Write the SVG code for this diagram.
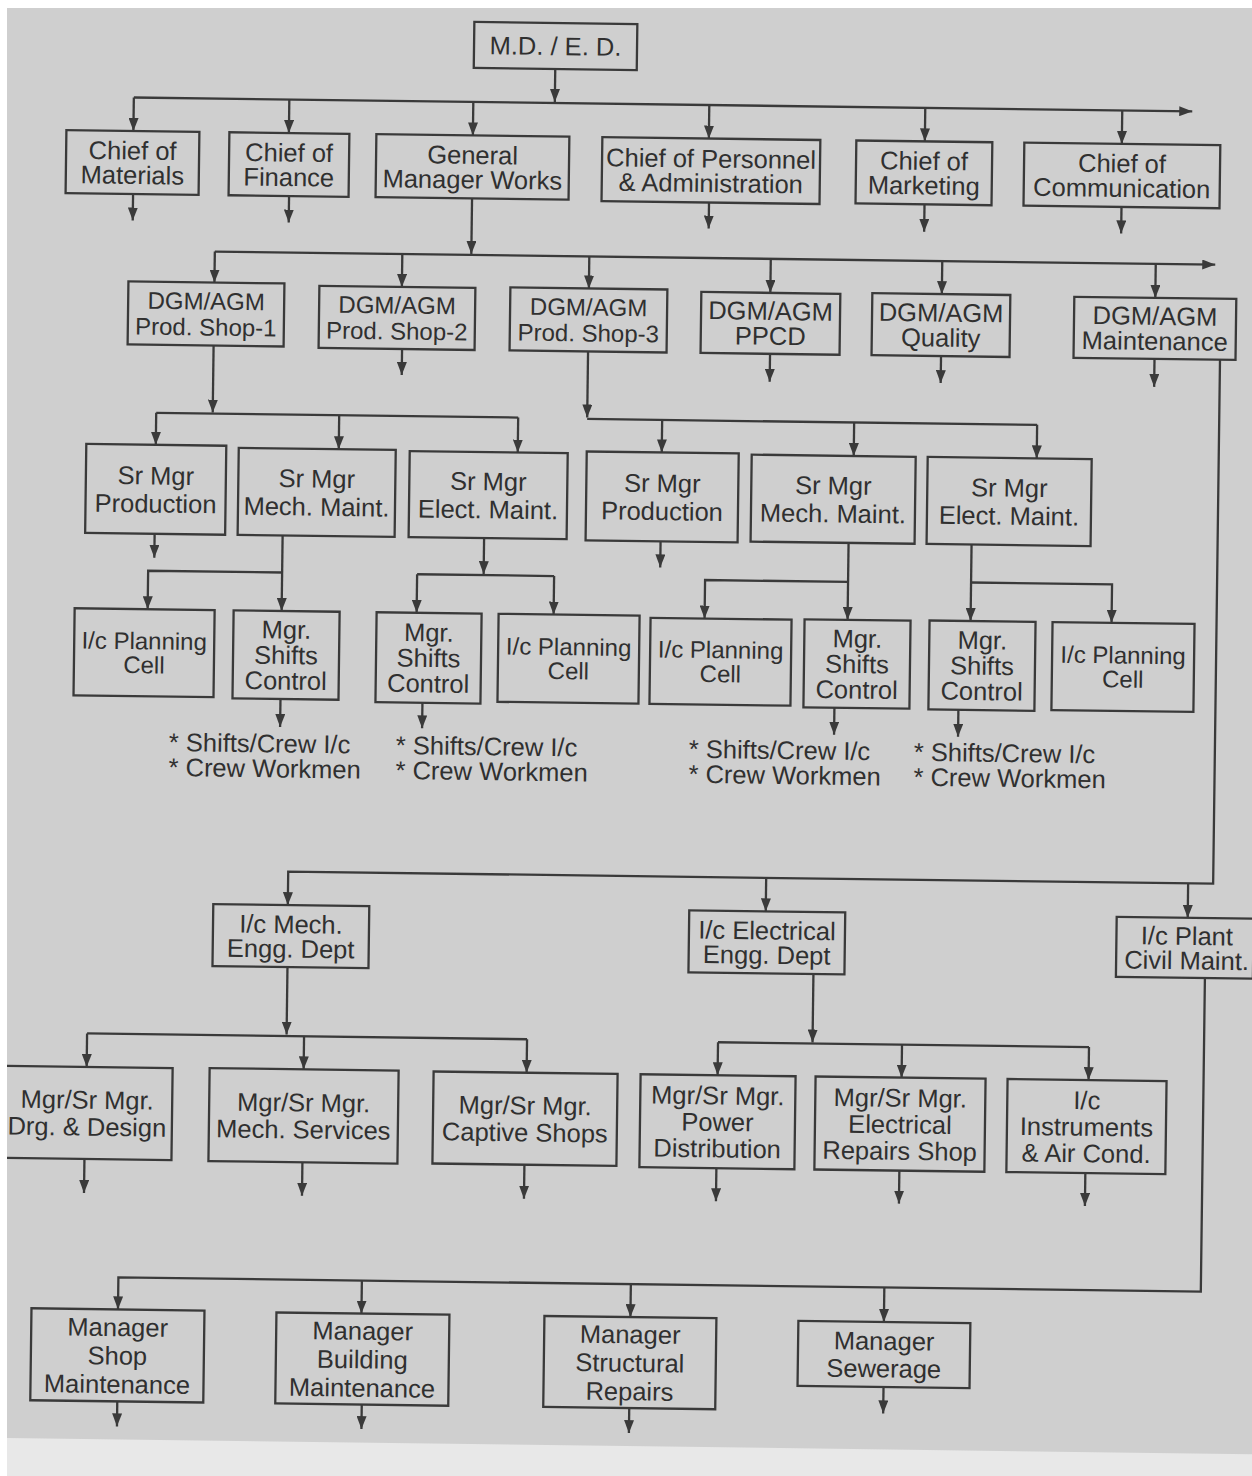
<svg xmlns="http://www.w3.org/2000/svg" width="1252" height="1476" viewBox="0 0 1252 1476">
<defs>
<style>
.b{fill:none;stroke:#3a3a3a;stroke-width:2.3}
.c{fill:none;stroke:#3a3a3a;stroke-width:2.3}
.a{marker-end:url(#ah)}
text{font-family:"Liberation Sans",Arial,sans-serif;fill:#303030;text-anchor:middle}
.f24{font-size:24px}
.f25{font-size:25.5px}
.note{text-anchor:start;font-size:25.5px}
</style>
<marker id="ah" viewBox="0 0 13 10" refX="13" refY="5" markerWidth="13" markerHeight="10" markerUnits="userSpaceOnUse" orient="auto"><path d="M0,0 L13,5 L0,10 z" fill="#3a3a3a"/></marker>
<clipPath id="clip"><rect x="7" y="8" width="1245" height="1468"/></clipPath>
</defs>
<rect width="1252" height="1476" fill="#ffffff"/>
<rect x="7" y="8" width="1245" height="1468" fill="#cfcfcf"/>
<g clip-path="url(#clip)">
<g transform="rotate(0.75 626 738)">
<rect x="-60" y="1446" width="1420" height="200" fill="#e8e8e8"/>
<g id="connectors">
<path class="c a" d="M546.5,70 V103"/>
<path class="c a" d="M125.5,104 H1184"/>
<path class="c a" d="M125.5,104 V137.5"/>
<path class="c a" d="M281,104 V137.5"/>
<path class="c a" d="M465,104 V137.5"/>
<path class="c a" d="M701,104 V137.5"/>
<path class="c a" d="M917,104 V137.5"/>
<path class="c a" d="M1114,104 V137.5"/>
<path class="c a" d="M126,200.5 V227"/>
<path class="c a" d="M282,200.5 V227"/>
<path class="c a" d="M702,201.5 V227.5"/>
<path class="c a" d="M917.5,200.5 V228"/>
<path class="c a" d="M1114.5,200.5 V227"/>
<path class="c a" d="M465,200.5 V256"/>
<path class="c a" d="M208.5,257 H1209"/>
<path class="c a" d="M208.5,257 V288"/>
<path class="c a" d="M396,257 V290"/>
<path class="c a" d="M583,257 V289"/>
<path class="c a" d="M764.5,257 V291"/>
<path class="c a" d="M936,257 V290"/>
<path class="c a" d="M1149.5,257 V291"/>
<path class="c a" d="M397,352 V378"/>
<path class="c a" d="M765,352 V380"/>
<path class="c a" d="M936,352 V379"/>
<path class="c a" d="M1149.5,352 V380"/>
<path class="c a" d="M208.5,351 V418"/>
<path class="c" d="M152,419 H514"/>
<path class="c a" d="M152,419 V451"/>
<path class="c a" d="M335,419 V453"/>
<path class="c a" d="M514,419 V454"/>
<path class="c a" d="M583,352.5 V418"/>
<path class="c" d="M583,419.5 H1033"/>
<path class="c a" d="M658,419.5 V452"/>
<path class="c a" d="M850,419.5 V453"/>
<path class="c a" d="M1033,419.5 V453"/>
<path class="c a" d="M152,540 V564"/>
<path class="c a" d="M658,541 V567"/>
<path class="c a" d="M280,540 V615.5"/>
<path class="c a" d="M280,577 H146 V615.5"/>
<path class="c a" d="M481.5,540 V576"/>
<path class="c" d="M415,577 H552"/>
<path class="c a" d="M415,577 V615.5"/>
<path class="c a" d="M552,577 V615.5"/>
<path class="c a" d="M846,540 V617"/>
<path class="c a" d="M846,579 H703 V617.5"/>
<path class="c a" d="M969,540 V616.5"/>
<path class="c a" d="M969,578 H1110 V616.5"/>
<path class="c a" d="M280,703.5 V731.5"/>
<path class="c a" d="M422,705.5 V731"/>
<path class="c a" d="M834,705 V732"/>
<path class="c a" d="M958,705.5 V732.5"/>
<path class="c a" d="M1215,352 V876 H290 V909.5"/>
<path class="c a" d="M768,876 V909.5"/>
<path class="c a" d="M1190,876 V910.5"/>
<path class="c a" d="M290.5,971.5 V1039"/>
<path class="c" d="M91,1040.5 H531"/>
<path class="c a" d="M91,1040.5 V1074"/>
<path class="c a" d="M308,1040.5 V1073.5"/>
<path class="c a" d="M531,1040.5 V1074"/>
<path class="c a" d="M816.5,971.5 V1040"/>
<path class="c" d="M722,1041 H1093"/>
<path class="c a" d="M722,1041 V1074"/>
<path class="c a" d="M906,1041 V1074"/>
<path class="c a" d="M1093,1041 V1074"/>
<path class="c a" d="M90,1166 V1200"/>
<path class="c a" d="M308,1166.5 V1200"/>
<path class="c a" d="M530,1166 V1200"/>
<path class="c a" d="M722,1167 V1200"/>
<path class="c a" d="M905,1167 V1200"/>
<path class="c a" d="M1091,1167 V1200"/>
<path class="c a" d="M1208,970.5 V1284 H125.5 V1316"/>
<path class="c a" d="M369,1284 V1317"/>
<path class="c a" d="M638,1284 V1317"/>
<path class="c a" d="M891.5,1284 V1318.5"/>
<path class="c a" d="M126,1408 V1433"/>
<path class="c a" d="M370.5,1408 V1432.5"/>
<path class="c a" d="M638,1408 V1433"/>
<path class="c a" d="M892,1383.5 V1410"/>
</g>
<g id="n-md"><rect class="b" x="465" y="24" width="163" height="46"/><text class="f25" x="546.5" y="56">M.D. / E. D.</text></g>
<g id="n-materials"><rect class="b" x="58.5" y="137.5" width="133" height="63"/><text class="f25"><tspan x="125" y="166">Chief of</tspan><tspan x="125" y="190.5">Materials</tspan></text></g>
<g id="n-finance"><rect class="b" x="221.5" y="137.5" width="120" height="63"/><text class="f25"><tspan x="281.5" y="166">Chief of</tspan><tspan x="281.5" y="190.5">Finance</tspan></text></g>
<g id="n-gm"><rect class="b" x="368.5" y="137.5" width="193" height="63"/><text class="f25"><tspan x="465" y="166">General</tspan><tspan x="465" y="190.5">Manager Works</tspan></text></g>
<g id="n-personnel"><rect class="b" x="594.5" y="137.5" width="218" height="64"/><text class="f25"><tspan x="703.5" y="166.5">Chief of Personnel</tspan><tspan x="703.5" y="191">&amp; Administration</tspan></text></g>
<g id="n-marketing"><rect class="b" x="848.5" y="137.5" width="136" height="63"/><text class="f25"><tspan x="916.5" y="166">Chief of</tspan><tspan x="916.5" y="190.5">Marketing</tspan></text></g>
<g id="n-communication"><rect class="b" x="1016.5" y="137.5" width="196" height="63"/><text class="f25"><tspan x="1114.5" y="166">Chief of</tspan><tspan x="1114.5" y="190.5">Communication</tspan></text></g>
<g id="n-dgm1"><rect class="b" x="122.5" y="288" width="156" height="63"/><text class="f24"><tspan x="200.5" y="315">DGM/AGM</tspan><tspan x="200.5" y="341">Prod. Shop-1</tspan></text></g>
<g id="n-dgm2"><rect class="b" x="313.5" y="290" width="156" height="62"/><text class="f24"><tspan x="391.5" y="316.5">DGM/AGM</tspan><tspan x="391.5" y="342.5">Prod. Shop-2</tspan></text></g>
<g id="n-dgm3"><rect class="b" x="504.5" y="289" width="157" height="63"/><text class="f24"><tspan x="583" y="316">DGM/AGM</tspan><tspan x="583" y="342">Prod. Shop-3</tspan></text></g>
<g id="n-ppcd"><rect class="b" x="695.5" y="291" width="139" height="61"/><text class="f25"><tspan x="765" y="318">DGM/AGM</tspan><tspan x="765" y="343">PPCD</tspan></text></g>
<g id="n-quality"><rect class="b" x="866.5" y="290" width="138" height="62"/><text class="f25"><tspan x="935.5" y="317.5">DGM/AGM</tspan><tspan x="935.5" y="342.5">Quality</tspan></text></g>
<g id="n-maintenance"><rect class="b" x="1068.5" y="291" width="162" height="61"/><text class="f25"><tspan x="1149.5" y="318">DGM/AGM</tspan><tspan x="1149.5" y="343">Maintenance</tspan></text></g>
<g id="n-srprod1"><rect class="b" x="82.5" y="451" width="140" height="89"/><text class="f25"><tspan x="152.5" y="490.7">Sr Mgr</tspan><tspan x="152.5" y="518.7">Production</tspan></text></g>
<g id="n-srmech1"><rect class="b" x="235" y="453" width="157" height="87"/><text class="f25"><tspan x="313.5" y="491.7">Sr Mgr</tspan><tspan x="313.5" y="519.7">Mech. Maint.</tspan></text></g>
<g id="n-srelec1"><rect class="b" x="406" y="454" width="158" height="86"/><text class="f25"><tspan x="485" y="492.2">Sr Mgr</tspan><tspan x="485" y="520.2">Elect. Maint.</tspan></text></g>
<g id="n-srprod2"><rect class="b" x="583" y="452" width="152" height="89"/><text class="f25"><tspan x="659" y="491.7">Sr Mgr</tspan><tspan x="659" y="519.7">Production</tspan></text></g>
<g id="n-srmech2"><rect class="b" x="748" y="453" width="164" height="87"/><text class="f25"><tspan x="830" y="491.7">Sr Mgr</tspan><tspan x="830" y="519.7">Mech. Maint.</tspan></text></g>
<g id="n-srelec2"><rect class="b" x="924" y="453" width="164" height="87"/><text class="f25"><tspan x="1006" y="491.7">Sr Mgr</tspan><tspan x="1006" y="519.7">Elect. Maint.</tspan></text></g>
<g id="n-plan1"><rect class="b" x="73" y="615.5" width="140" height="87"/><text class="f24"><tspan x="143" y="655.6">I/c Planning</tspan><tspan x="143" y="679.6">Cell</tspan></text></g>
<g id="n-shifts1"><rect class="b" x="232" y="615.5" width="106" height="88"/><text class="f25"><tspan x="285" y="643">Mgr.</tspan><tspan x="285" y="668.5">Shifts</tspan><tspan x="285" y="694">Control</tspan></text></g>
<g id="n-shifts2"><rect class="b" x="375" y="615.5" width="105" height="90"/><text class="f25"><tspan x="427.5" y="644">Mgr.</tspan><tspan x="427.5" y="669.5">Shifts</tspan><tspan x="427.5" y="695">Control</tspan></text></g>
<g id="n-plan2"><rect class="b" x="497" y="615.5" width="141" height="88"/><text class="f24"><tspan x="567.5" y="656">I/c Planning</tspan><tspan x="567.5" y="680">Cell</tspan></text></g>
<g id="n-plan3"><rect class="b" x="649" y="617.5" width="141" height="86"/><text class="f24"><tspan x="719.5" y="657">I/c Planning</tspan><tspan x="719.5" y="681">Cell</tspan></text></g>
<g id="n-shifts3"><rect class="b" x="803" y="617" width="106" height="88"/><text class="f25"><tspan x="856" y="644.5">Mgr.</tspan><tspan x="856" y="670">Shifts</tspan><tspan x="856" y="695.5">Control</tspan></text></g>
<g id="n-shifts4"><rect class="b" x="928" y="616.5" width="106" height="89"/><text class="f25"><tspan x="981" y="644.5">Mgr.</tspan><tspan x="981" y="670">Shifts</tspan><tspan x="981" y="695.5">Control</tspan></text></g>
<g id="n-plan4"><rect class="b" x="1051" y="616.5" width="142" height="88"/><text class="f24"><tspan x="1122" y="657">I/c Planning</tspan><tspan x="1122" y="681">Cell</tspan></text></g>
<g id="note1"><text class="note"><tspan x="169" y="757">* Shifts/Crew I/c</tspan><tspan x="169" y="782">* Crew Workmen</tspan></text></g>
<g id="note2"><text class="note"><tspan x="396" y="757">* Shifts/Crew I/c</tspan><tspan x="396" y="782">* Crew Workmen</tspan></text></g>
<g id="note3"><text class="note"><tspan x="689" y="757">* Shifts/Crew I/c</tspan><tspan x="689" y="782">* Crew Workmen</tspan></text></g>
<g id="note4"><text class="note"><tspan x="914" y="757">* Shifts/Crew I/c</tspan><tspan x="914" y="782">* Crew Workmen</tspan></text></g>
<g id="n-mecheng"><rect class="b" x="215.5" y="909.5" width="156" height="62"/><text class="f25"><tspan x="293.5" y="937.5">I/c Mech.</tspan><tspan x="293.5" y="962">Engg. Dept</tspan></text></g>
<g id="n-eleceng"><rect class="b" x="691.5" y="909.5" width="156" height="62"/><text class="f25"><tspan x="769.5" y="937.5">I/c Electrical</tspan><tspan x="769.5" y="962">Engg. Dept</tspan></text></g>
<g id="n-civil"><rect class="b" x="1119" y="910.5" width="137" height="60"/><text class="f25"><tspan x="1189.5" y="937.5">I/c Plant</tspan><tspan x="1189.5" y="962">Civil Maint.</tspan></text></g>
<g id="n-drg"><rect class="b" x="2" y="1074" width="175" height="92"/><text class="f25"><tspan x="92" y="1115.7">Mgr/Sr Mgr.</tspan><tspan x="92" y="1142.7">Drg. &amp; Design</tspan></text></g>
<g id="n-mechsvc"><rect class="b" x="214" y="1073.5" width="189" height="93"/><text class="f25"><tspan x="308.5" y="1115.7">Mgr/Sr Mgr.</tspan><tspan x="308.5" y="1142.7">Mech. Services</tspan></text></g>
<g id="n-captive"><rect class="b" x="438" y="1074" width="184" height="92"/><text class="f25"><tspan x="530" y="1115.7">Mgr/Sr Mgr.</tspan><tspan x="530" y="1142.7">Captive Shops</tspan></text></g>
<g id="n-power"><rect class="b" x="645" y="1074" width="155" height="93"/><text class="f25"><tspan x="722.5" y="1103.2">Mgr/Sr Mgr.</tspan><tspan x="722.5" y="1129.7">Power</tspan><tspan x="722.5" y="1156.2">Distribution</tspan></text></g>
<g id="n-elecrep"><rect class="b" x="820" y="1074" width="170" height="93"/><text class="f25"><tspan x="905" y="1103.2">Mgr/Sr Mgr.</tspan><tspan x="905" y="1129.7">Electrical</tspan><tspan x="905" y="1156.2">Repairs Shop</tspan></text></g>
<g id="n-instr"><rect class="b" x="1012" y="1074" width="159" height="93"/><text class="f25"><tspan x="1091.5" y="1103.2">I/c</tspan><tspan x="1091.5" y="1129.7">Instruments</tspan><tspan x="1091.5" y="1156.2">&amp; Air Cond.</tspan></text></g>
<g id="n-shopm"><rect class="b" x="39" y="1316" width="173" height="92"/><text class="f25"><tspan x="125.5" y="1342.7">Manager</tspan><tspan x="125.5" y="1371.2">Shop</tspan><tspan x="125.5" y="1399.7">Maintenance</tspan></text></g>
<g id="n-bldgm"><rect class="b" x="284" y="1317" width="173" height="91"/><text class="f25"><tspan x="370.5" y="1343.2">Manager</tspan><tspan x="370.5" y="1371.7">Building</tspan><tspan x="370.5" y="1400.2">Maintenance</tspan></text></g>
<g id="n-struct"><rect class="b" x="552" y="1317" width="172" height="91"/><text class="f25"><tspan x="638" y="1343.2">Manager</tspan><tspan x="638" y="1371.7">Structural</tspan><tspan x="638" y="1400.2">Repairs</tspan></text></g>
<g id="n-sewer"><rect class="b" x="806" y="1318.5" width="172" height="65"/><text class="f25"><tspan x="892" y="1346.5">Manager</tspan><tspan x="892" y="1374">Sewerage</tspan></text></g>
</g>
</g>
</svg>
